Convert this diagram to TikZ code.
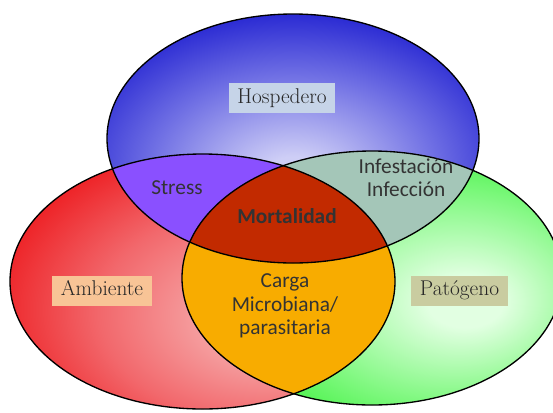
\documentclass[tikz,border=0pt]{standalone}
\usepackage{fontspec}
\newfontfamily\calibri{Carlito}
\usepackage{xcolor}
\usepackage{tikz}

\definecolor{blueedge}{RGB}{14,14,204}
\definecolor{bluemid}{RGB}{112,112,228}
\definecolor{bluelight}{RGB}{206,206,246}
\definecolor{rededge}{RGB}{236,14,18}
\definecolor{redmid}{RGB}{242,104,108}
\definecolor{redlight}{RGB}{246,178,178}
\definecolor{greenedge}{RGB}{24,236,24}
\definecolor{greenmid}{RGB}{124,248,124}
\definecolor{greenlight}{RGB}{226,255,226}
\definecolor{stressfill}{RGB}{138,80,255}
\definecolor{infefill}{RGB}{164,198,184}
\definecolor{cargafill}{RGB}{248,172,0}
\definecolor{mortfill}{RGB}{194,42,0}
\definecolor{hospbox}{RGB}{198,212,232}
\definecolor{ambbox}{RGB}{248,196,150}
\definecolor{patbox}{RGB}{201,204,160}

\pgfdeclareradialshading{hospshade}{\pgfpoint{0bp}{-8bp}}{color(0bp)=(bluelight); color(4bp)=(bluelight); color(19bp)=(bluemid); color(35bp)=(blueedge); color(90bp)=(blueedge)}
\pgfdeclareradialshading{ambshade}{\pgfpoint{10bp}{-8bp}}{color(0bp)=(redlight); color(5bp)=(redlight); color(21bp)=(redmid); color(37bp)=(rededge); color(90bp)=(rededge)}
\pgfdeclareradialshading{patshade}{\pgfpoint{13bp}{-5bp}}{color(0bp)=(greenlight); color(5bp)=(greenlight); color(21bp)=(greenmid); color(37bp)=(greenedge); color(90bp)=(greenedge)}

\begin{document}
\begin{tikzpicture}[x=0.75pt,y=0.75pt,yscale=-1,xscale=1,
  labelbox/.style={inner xsep=6.5pt, minimum height=22.5pt, text height=11pt, text depth=3.2pt, font=\fontsize{16}{19}\selectfont, text=black!85},
  zonetext/.style={font=\calibri\fontsize{16}{17.5}\selectfont, align=center, text=black!80, inner sep=0pt}]
\useasboundingbox (0,0) rectangle (553,412);
\clip (0,0) rectangle (553,412);

\coordinate (hc) at (293,138.5);
\coordinate (ac) at (202.5,281.5);
\coordinate (pc) at (372,278);

%Shape: Ellipse Hospedero
\shade [shading=hospshade] (hc) ellipse [x radius=186, y radius=124.5];
%Shape: Ellipse Ambiente
\shade [shading=ambshade] (ac) ellipse [x radius=192.5, y radius=127.5];
%Shape: Ellipse Patogeno
\shade [shading=patshade] (pc) ellipse [x radius=190, y radius=127];

%Overlaps
\begin{scope}
  \clip (hc) ellipse [x radius=186, y radius=124.5];
  \fill [stressfill] (ac) ellipse [x radius=192.5, y radius=127.5];
  \fill [infefill] (pc) ellipse [x radius=190, y radius=127];
\end{scope}
\begin{scope}
  \clip (ac) ellipse [x radius=192.5, y radius=127.5];
  \fill [cargafill] (pc) ellipse [x radius=190, y radius=127];
  \clip (hc) ellipse [x radius=186, y radius=124.5];
  \fill [mortfill] (pc) ellipse [x radius=190, y radius=127];
\end{scope}

%Outlines
\draw [line width=1pt] (hc) ellipse [x radius=186, y radius=124.5];
\draw [line width=1pt] (ac) ellipse [x radius=192.5, y radius=127.5];
\draw [line width=1pt] (pc) ellipse [x radius=190, y radius=127];

% Text Node
\node [labelbox, fill=hospbox] (hosp) at (282,98) {Hospedero};
% Text Node
\node [labelbox, fill=ambbox] (amb) at (102,290.5) {Ambiente};
% Text Node
\node [labelbox, fill=patbox] (pat) at (459.5,290.5) {Patógeno};
% Text Node
\node [zonetext] (stress) at (177,188) {Stress};
% Text Node
\node [zonetext, font=\calibri\bfseries\fontsize{16}{17.5}\selectfont] (mort) at (287,216) {Mortalidad};
% Text Node
\node [zonetext] (infe) at (406,178) {Infestación\\Infección};
% Text Node
\node [zonetext] (carga) at (285,306) {Carga\\Microbiana/\\parasitaria};

\end{tikzpicture}
\end{document}
